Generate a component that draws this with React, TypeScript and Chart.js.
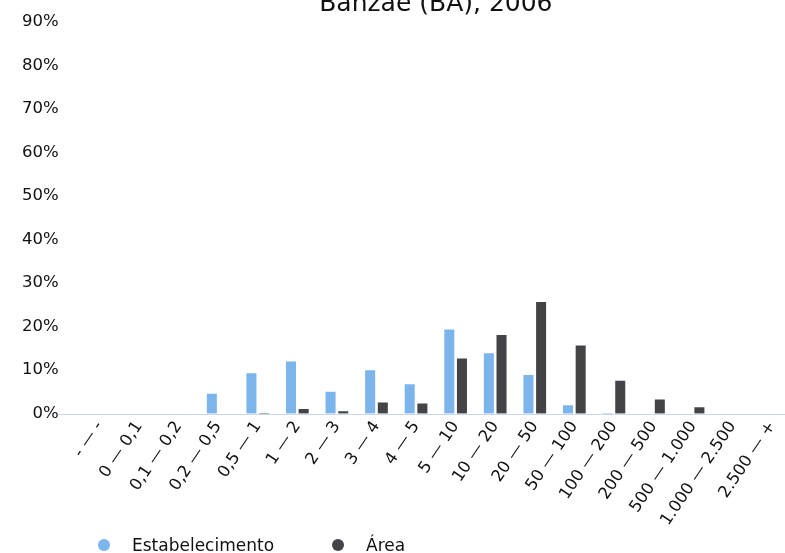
import React, { useEffect, useRef } from "react";
import { Chart, registerables } from "chart.js";

Chart.register(...registerables);

const title = "Banzaê (BA), 2006";
const categories = [
  "- — -",
  "0 — 0,1",
  "0,1 — 0,2",
  "0,2 — 0,5",
  "0,5 — 1",
  "1 — 2",
  "2 — 3",
  "3 — 4",
  "4 — 5",
  "5 — 10",
  "10 — 20",
  "20 — 50",
  "50 — 100",
  "100 — 200",
  "200 — 500",
  "500 — 1.000",
  "1.000 — 2.500",
  "2.500 — +",
];
const seriesNames = ["Estabelecimento", "Área"];
const estabelecimento = [0, 0, 0, 4.8, 9.5, 12.2, 5.3, 10.2, 7.0, 19.6, 14.1, 9.1, 2.2, 0.3, 0, 0, 0, 0];
const area = [0, 0, 0, 0, 0.3, 1.3, 0.8, 2.8, 2.6, 12.9, 18.3, 25.9, 15.9, 7.8, 3.5, 1.7, 0, 0];
const seriesColors = ["#7cb5ec", "#434348"];
const yMin = 0;
const yMax = 90;
const yStep = 10;

const FONT = "'DejaVu Sans', sans-serif";
const TEXT = "#111111";

export default function App() {
  const ref = useRef<HTMLCanvasElement>(null);

  useEffect(() => {
    if (!ref.current) return;
    const baseline = {
      id: "baseline",
      afterDatasetsDraw(chart: any) {
        const { ctx, chartArea, scales } = chart;
        const y = Math.round(scales.y.getPixelForValue(0)) + 0.5;
        ctx.save();
        ctx.strokeStyle = "#ccd6eb";
        ctx.lineWidth = 1;
        ctx.beginPath();
        ctx.moveTo(chartArea.left - 21, y);
        ctx.lineTo(chart.width, y);
        ctx.stroke();
        ctx.restore();
      },
    };
    const chart = new Chart(ref.current, {
      type: "bar",
      data: {
        labels: categories,
        datasets: [
          {
            label: seriesNames[0],
            data: estabelecimento,
            backgroundColor: seriesColors[0],
            borderColor: "rgba(255,255,255,0.45)",
            borderWidth: 1,
            categoryPercentage: 0.64,
            barPercentage: 0.95,
          },
          {
            label: seriesNames[1],
            data: area,
            backgroundColor: seriesColors[1],
            borderColor: "rgba(255,255,255,0.45)",
            borderWidth: 1,
            categoryPercentage: 0.64,
            barPercentage: 0.95,
          },
        ],
      },
      options: {
        responsive: false,
        animation: false,
        layout: { padding: { left: 20, right: 18, top: 0, bottom: 19.5 } },
        plugins: {
          legend: { display: false },
          tooltip: { enabled: false },
          title: {
            display: true,
            text: title,
            fullSize: false,
            color: TEXT,
            font: { family: FONT, size: 25, weight: "normal" },
            padding: { top: -12, bottom: 2 },
          },
        },
        scales: {
          x: {
            grid: { display: false, drawTicks: false },
            border: { display: false },
            ticks: {
              autoSkip: false,
              maxRotation: 56,
              minRotation: 56,
              padding: 4,
              color: TEXT,
              font: { family: FONT, size: 16.5 },
            },
          },
          y: {
            min: yMin,
            max: yMax,
            grid: { display: false, drawTicks: false },
            border: { display: false },
            ticks: {
              stepSize: yStep,
              padding: 21,
              color: TEXT,
              font: { family: FONT, size: 16.5 },
              callback: (v: any) => v + "%",
            },
          },
        },
      },
      plugins: [baseline],
    });
    return () => chart.destroy();
  }, []);

  return (
    <div style={{ position: "absolute", left: 0, top: 0, width: 785, height: 553, overflow: "hidden", background: "#fff" }}>
      <canvas
        ref={ref}
        width={829}
        height={562}
        style={{ display: "block", position: "absolute", left: -19, top: -9, width: 829, height: 562 }}
      />
      <div
        style={{
          position: "absolute",
          left: 98,
          top: 535,
          display: "flex",
          alignItems: "center",
          fontFamily: FONT,
          fontSize: 17,
          color: TEXT,
          whiteSpace: "nowrap",
        }}
      >
        {seriesNames.map((name, i) => (
          <div key={name} style={{ display: "flex", alignItems: "center", marginRight: i === 0 ? 58 : 0 }}>
            <span
              style={{
                display: "inline-block",
                width: 12,
                height: 12,
                borderRadius: 6,
                background: seriesColors[i],
                marginRight: 22,
              }}
            />
            <span>{name}</span>
          </div>
        ))}
      </div>
    </div>
  );
}
